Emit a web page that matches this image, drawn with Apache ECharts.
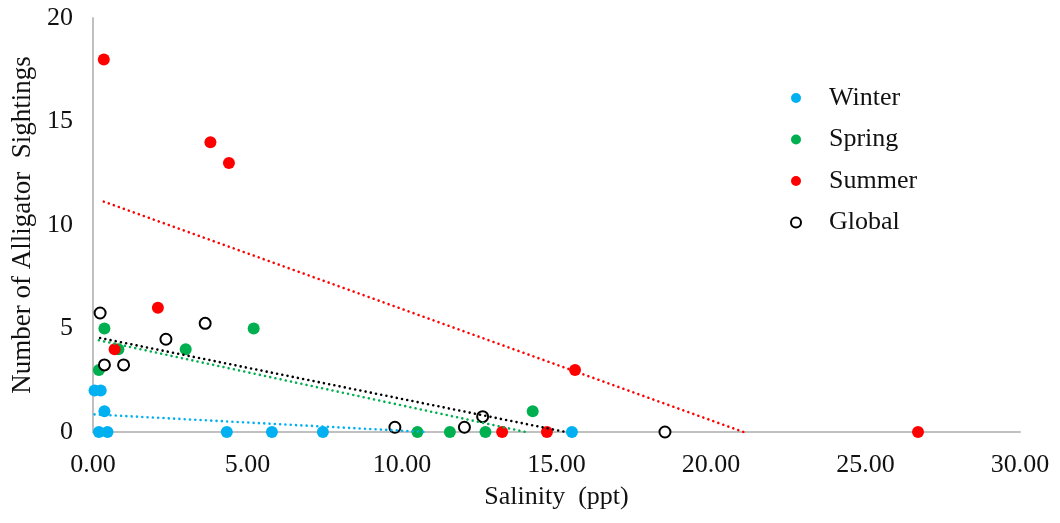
<!DOCTYPE html>
<html>
<head>
<meta charset="utf-8">
<script src="https://cdn.jsdelivr.net/npm/echarts@6/dist/echarts.min.js"></script>
<style>html,body{margin:0;padding:0;background:#fff;}#c{width:1060px;height:523px;}</style>
</head>
<body>
<div id="c"></div>
<script>
// Data: [salinity (ppt), sightings]
const winter = [[0.05,2],[0.25,2],[0.37,1],[0.19,0],[0.47,0],[4.33,0],[5.79,0],[7.44,0],[15.5,0]];
const spring = [[0.37,5],[5.2,5],[3.0,4],[0.82,4],[0.19,3],[10.5,0],[11.55,0],[12.7,0],[14.23,1]];
const summer = [[0.35,18],[3.8,14],[4.4,13],[2.1,6],[0.7,4],[15.6,3],[13.24,0],[14.69,0],[26.7,0]];
const global = [[0.23,5.75],[3.63,5.25],[2.36,4.48],[0.37,3.24],[0.99,3.24],[9.77,0.23],[12.02,0.23],[12.61,0.74],[18.51,0]];
// Linear trendline endpoints
const winterTrend = [[0.05,0.85],[10.8,0]];
const springTrend = [[0.19,4.43],[14.0,0]];
const summerTrend = [[0.35,11.13],[21.05,0]];
const globalTrend = [[0.23,4.54],[15.3,0]];
const seriesNames = ['Winter','Spring','Summer','Global'];
const colors = ['#00b0f0','#00b050','#ff0000','#000000'];

const font = 'Liberation Serif, Times New Roman, serif';
const textColor = '#111111';
const chart = echarts.init(document.getElementById('c'), null, {renderer:'canvas'});

function scatter(name, data, color, hollow){
  return {
    name: name, type: 'scatter', data: data, symbol: 'circle',
    symbolSize: hollow ? 11 : 12, z: 2,
    itemStyle: hollow ? {color:'#ffffff', borderColor: color, borderWidth: 2, opacity: 1}
                      : {color: color, opacity: 1},
    emphasis: {disabled: true}
  };
}
function trend(data, color){
  return {
    type: 'line', data: data, symbol: 'none', z: 5, silent: true,
    lineStyle: {color: color, width: 2.6, type: [0.01, 5.3], cap: 'round', opacity: 1},
    clip: true
  };
}

chart.setOption({
  animation: false,
  backgroundColor: '#ffffff',
  grid: {left: 93, right: 40, top: 18, bottom: 91},
  legend: {
    orient: 'vertical', left: 785, top: 80, itemGap: 15.5,
    itemWidth: 10, itemHeight: 10,
    data: seriesNames.map(n=>({name:n, icon:'circle'})),
    textStyle: {fontFamily: font, fontSize: 26, color: textColor, padding: [0,0,0,23]}
  },
  xAxis: {
    type: 'value', min: 0, max: 30, interval: 5,
    name: 'Salinity  (ppt)', nameLocation: 'middle', nameGap: 52,
    nameTextStyle: {fontFamily: font, fontSize: 26, color: textColor},
    axisLine: {show: true, lineStyle: {color: '#c0c0c0', width: 2}},
    axisTick: {show: false},
    splitLine: {show: false},
    axisLabel: {fontFamily: font, fontSize: 26, color: textColor, margin: 20,
      formatter: v => v.toFixed(2)}
  },
  yAxis: {
    type: 'value', min: 0, max: 20, interval: 5,
    name: 'Number of Alligator  Sightings', nameLocation: 'middle', nameGap: 57,
    nameTextStyle: {fontFamily: font, fontSize: 27, color: textColor},
    axisLine: {show: true, lineStyle: {color: '#c0c0c0', width: 2}},
    axisTick: {show: false},
    splitLine: {show: false},
    axisLabel: {fontFamily: font, fontSize: 26, color: textColor, margin: 20}
  },
  series: [
    scatter('Winter', winter, colors[0], false),
    scatter('Spring', spring, colors[1], false),
    scatter('Summer', summer, colors[2], false),
    scatter('Global', global, colors[3], true),
    trend(winterTrend, colors[0]),
    trend(springTrend, colors[1]),
    trend(summerTrend, colors[2]),
    trend(globalTrend, colors[3])
  ]
});
</script>
</body>
</html>
